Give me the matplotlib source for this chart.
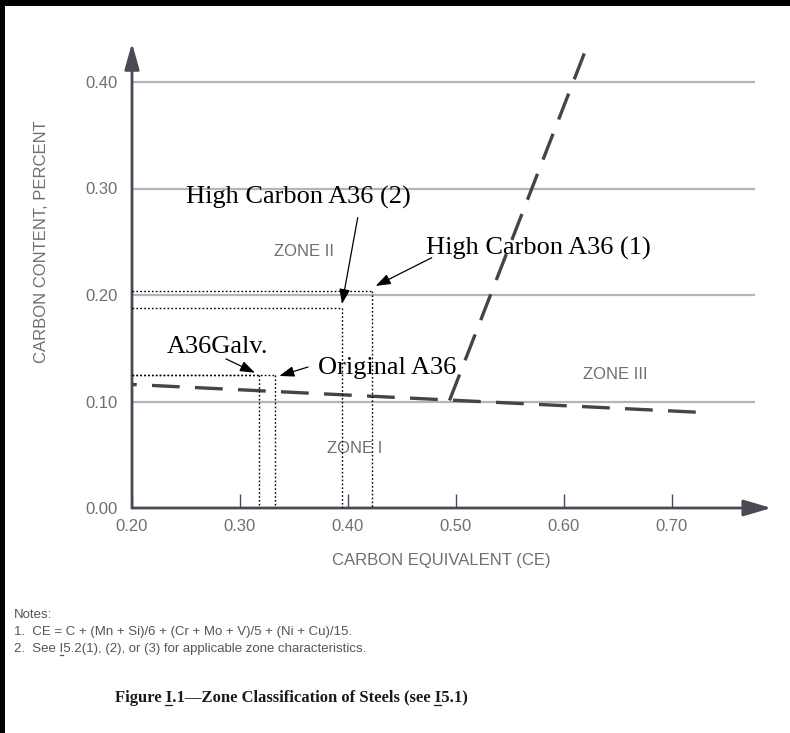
import matplotlib
matplotlib.use("Agg")
import matplotlib.pyplot as plt
from matplotlib.patches import Rectangle
from matplotlib.lines import Line2D

plt.rcParams['lines.scale_dashes'] = False

# ---------------- data ----------------
x_ticks = [0.20, 0.30, 0.40, 0.50, 0.60, 0.70]
x_tick_labels = ["0.20", "0.30", "0.40", "0.50", "0.60", "0.70"]
y_ticks = [0.00, 0.10, 0.20, 0.30, 0.40]
y_tick_labels = ["0.00", "0.10", "0.20", "0.30", "0.40"]
grid_levels = [0.10, 0.20, 0.30, 0.40]

# zone boundaries (dashed), drawn from right end towards the axis
boundary_low_ce = [0.722, 0.20]
boundary_low_c = [0.090, 0.116]
boundary_steep_ce = [0.494, 0.620]
boundary_steep_c = [0.101, 0.430]

# steel samples (dotted reference lines)
steel_names = ["A36Galv.", "Original A36", "High Carbon A36 (2)", "High Carbon A36 (1)"]
steel_ce = [0.318, 0.332, 0.394, 0.422]
steel_c = [0.125, 0.125, 0.188, 0.204]

# label positions and arrows for samples (data coords)
label_pos = [(0.2796, 0.1512), (0.4358, 0.1315), (0.3537, 0.292), (0.5759, 0.244)]
arrow_tail = [(0.287, 0.140), (0.363, 0.1324), (0.409, 0.2726), (0.4775, 0.235)]
arrow_tip = [(0.3139, 0.127), (0.3364, 0.124), (0.3944, 0.1915), (0.4256, 0.2085)]

zone_names = ["ZONE I", "ZONE II", "ZONE III"]
zone_pos = [(0.4065, 0.0554), (0.3593, 0.2404), (0.6472, 0.1258)]

notes_lines = ["Notes:",
               "1.  CE = C + (Mn + Si)/6 + (Cr + Mo + V)/5 + (Ni + Cu)/15.",
               "2.  See I5.2(1), (2), or (3) for applicable zone characteristics."]
caption = "Figure I.1\u2014Zone Classification of Steels (see I5.1)"

# ---------------- figure ----------------
W, H = 790, 733
fig = plt.figure(figsize=(W / 100, H / 100), dpi=100)
fig.patch.set_facecolor("white")

x0px, y0px, x1px, y1px = 132, 508, 785, 30
ax = fig.add_axes([x0px / W, (H - y0px) / H, (x1px - x0px) / W, (y0px - y1px) / H])
ax.set_xlim(0.20, 0.20 + (x1px - x0px) / 1080)
ax.set_ylim(0.0, (y0px - y1px) / 1065)
ax.set_facecolor("white")
for s in ax.spines.values():
    s.set_visible(False)

sans = ["Liberation Sans", "DejaVu Sans"]
serif = ["Liberation Serif", "DejaVu Serif"]
txtgray = "#6e6e74"
axcol = "#4a4a55"
gridcol = "#b0b5be"

# gridlines
ax.hlines(grid_levels, 0.20, 0.777, colors=gridcol, lw=1.6, zorder=1)

# axes with arrows
ax.annotate("", xy=(0.792, 0.0), xytext=(0.20, 0.0),
            arrowprops=dict(arrowstyle="-|>,head_length=1.7,head_width=0.5", lw=2.0,
                            color=axcol, shrinkA=0, shrinkB=0, mutation_scale=10),
            annotation_clip=False, zorder=5)
ax.annotate("", xy=(0.20, 0.4366), xytext=(0.20, 0.0),
            arrowprops=dict(arrowstyle="-|>,head_length=1.6,head_width=0.45", lw=2.0,
                            color=axcol, shrinkA=0, shrinkB=0, mutation_scale=10),
            annotation_clip=False, zorder=5)

# ticks
ax.set_xticks(x_ticks)
ax.set_xticklabels(x_tick_labels, fontfamily=sans, fontsize=12, color=txtgray)
ax.set_yticks(y_ticks)
ax.set_yticklabels(y_tick_labels, fontfamily=sans, fontsize=12, color=txtgray)
ax.tick_params(axis="x", direction="in", length=10, width=1.0, color=axcol, pad=8)
ax.tick_params(axis="y", length=0, pad=10)

# axis labels
fig.text(441 / W, 1 - 561 / H, "CARBON EQUIVALENT (CE)", ha="center", va="center",
         fontfamily=sans, fontsize=12, color=txtgray)
fig.text(42 / W, 1 - 242 / H, "CARBON CONTENT, PERCENT", ha="center", va="center",
         rotation=90, fontfamily=sans, fontsize=12, color=txtgray)

# zone boundaries
ax.plot(boundary_low_ce, boundary_low_c, color="#454545", lw=2.4,
        dashes=(20, 11), zorder=4, clip_on=False)
ax.plot(boundary_steep_ce, boundary_steep_c, color="#454545", lw=2.4,
        dashes=(20, 11), zorder=4, clip_on=False)

# zone labels
for name, (zx, zy) in zip(zone_names, zone_pos):
    ax.text(zx, zy, name, ha="center", va="center", fontfamily=sans, fontsize=12,
            color=txtgray, zorder=3)

# steel dotted lines
for ce, c in zip(steel_ce, steel_c):
    ax.plot([0.20, ce], [c, c], color="black", lw=1.0, dashes=(1.2, 1.6), zorder=6)
    ax.plot([ce, ce], [c, 0.0], color="black", lw=1.0, dashes=(1.2, 1.6), zorder=6)

# labels and arrows
for name, (lx, ly), tail, tip in zip(steel_names, label_pos, arrow_tail, arrow_tip):
    ax.text(lx, ly, name, ha="center", va="center", fontfamily=serif, fontsize=19,
            color="black", zorder=7)
    ax.annotate("", xy=tip, xytext=tail,
                arrowprops=dict(arrowstyle="-|>,head_length=0.9,head_width=0.32", lw=0.9,
                                color="black", shrinkA=0, shrinkB=0, mutation_scale=10),
                zorder=7)

renderer = fig.canvas.get_renderer()


def text_width_px(s, **kw):
    t = fig.text(0, 0, s, **kw)
    w = t.get_window_extent(renderer).width
    t.remove()
    return w


def underline_char(x_left_px, baseline_px, full, idx, **kw):
    pre = text_width_px(full[:idx], **kw) if idx > 0 else 0.0
    cw = text_width_px(full[idx], **kw)
    yy = 1 - (baseline_px + 2.5) / H
    fig.add_artist(Line2D([(x_left_px + pre) / W, (x_left_px + pre + cw) / W], [yy, yy],
                          transform=fig.transFigure, color=kw.get("color", "black"), lw=0.9))


# notes
note_kw = dict(fontfamily=sans, fontsize=9.5, color="#555555")
note_base = [618, 635, 652]
for line, yb in zip(notes_lines, note_base):
    fig.text(14 / W, 1 - yb / H, line, ha="left", va="baseline", **note_kw)
underline_char(14, note_base[2], notes_lines[2], notes_lines[2].index("I"), **note_kw)

# caption
cap_kw = dict(fontfamily=serif, fontweight="bold", fontsize=12, color="#1a1a1a")
cap_w = text_width_px(caption, **cap_kw)
cap_left = 291 - cap_w / 2
cap_base = 702
fig.text(cap_left / W, 1 - cap_base / H, caption, ha="left", va="baseline", **cap_kw)
i1 = caption.index("I")
i2 = caption.index("I", i1 + 1)
underline_char(cap_left, cap_base, caption, i1, **cap_kw)
underline_char(cap_left, cap_base, caption, i2, **cap_kw)

# page frame (left and top black borders)
fig.patches.append(Rectangle((0, 0), 5 / W, 1, transform=fig.transFigure,
                             facecolor="black", edgecolor="none", zorder=10))
fig.patches.append(Rectangle((0, 1 - 6 / H), 1, 6 / H, transform=fig.transFigure,
                             facecolor="black", edgecolor="none", zorder=10))

fig.savefig("out.png", dpi=100, facecolor="white")
